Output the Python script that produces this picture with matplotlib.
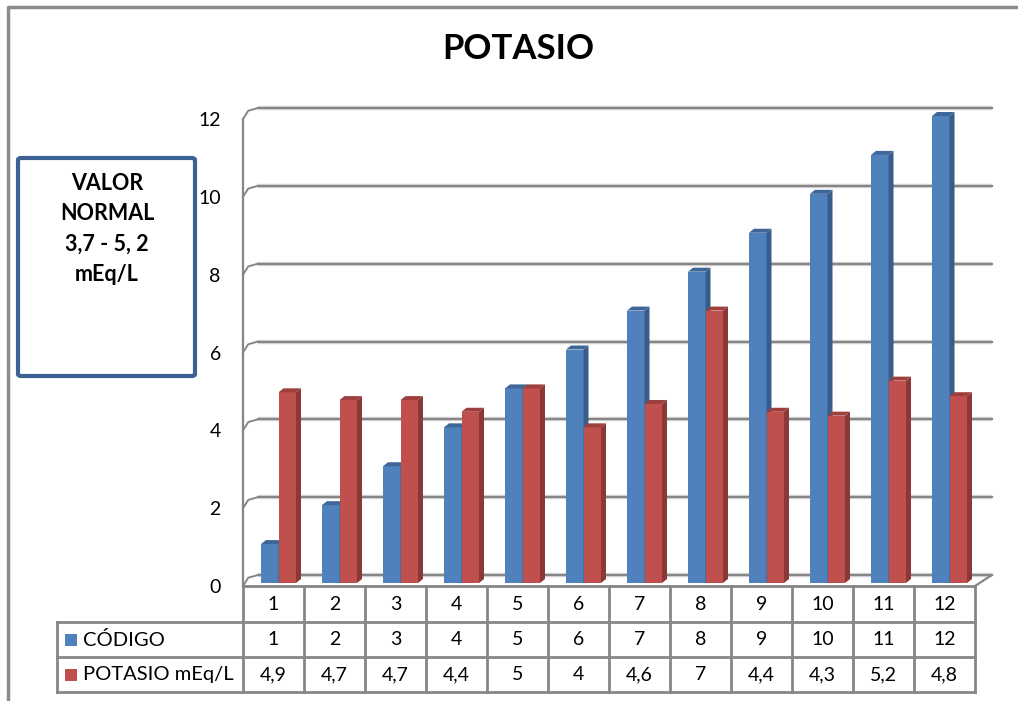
import numpy as np
import matplotlib.pyplot as plt
from matplotlib.patches import Polygon, FancyBboxPatch
from matplotlib.lines import Line2D

plt.rcParams['font.family'] = ['Lato', 'DejaVu Sans']

# data
categories = ["1", "2", "3", "4", "5", "6", "7", "8", "9", "10", "11", "12"]
codigo = [1, 2, 3, 4, 5, 6, 7, 8, 9, 10, 11, 12]
potasio = [4.9, 4.7, 4.7, 4.4, 5, 4, 4.6, 7, 4.4, 4.3, 5.2, 4.8]
codigo_txt = ["1", "2", "3", "4", "5", "6", "7", "8", "9", "10", "11", "12"]
potasio_txt = ["4,9", "4,7", "4,7", "4,4", "5", "4", "4,6", "7", "4,4", "4,3", "5,2", "4,8"]
series_names = ["CÓDIGO", "POTASIO mEq/L"]
yticks = [0, 2, 4, 6, 8, 10, 12]

BLUE = "#4F81BD"
BLUE_SIDE = "#385D8A"
BLUE_TOP = "#3E6699"
RED = "#C0504D"
RED_SIDE = "#8C3836"
RED_TOP = "#9E3F3D"
GRID = "#868686"

W, H = 1018, 701
fig = plt.figure(figsize=(W / 100, H / 100), dpi=100)

def fx(px):
    return px / W

def fy(py):
    # py measured from top of image
    return 1 - py / H

# main axes: front floor at y=586px, value 12 at y=119px, x from 243 to 975px
ax = fig.add_axes([fx(243), fy(586), fx(975) - fx(243), fy(119) - fy(586)])
n = len(categories)
ax.set_xlim(-0.5, n - 0.5)
ax.set_ylim(0, 12)
for s in ax.spines.values():
    s.set_visible(False)
ax.set_xticks([])
ax.set_yticks(yticks)
ax.set_yticklabels([str(t) for t in yticks], fontsize=14)
ax.tick_params(axis="y", length=0, pad=16)

px_x = 61.0       # pixels per category
px_y = 467 / 12   # pixels per unit
# 3D offsets
back_dx, back_dy = 15 / px_x, 11 / px_y
bar_dx, bar_dy = 5 / px_x, 3 / px_y
dep_x, dep_y = 5 / px_x, 4 / px_y
bw = 17.5 / px_x

# back wall gridlines and side-wall diagonals
for t in yticks:
    ax.plot([-0.5 + back_dx, n - 0.5 + back_dx + 0.03], [t + back_dy, t + back_dy],
            color="#D9D9D9", lw=3.2, clip_on=False, zorder=1, solid_capstyle="butt")
    ax.plot([-0.5 + back_dx, n - 0.5 + back_dx + 0.03], [t + back_dy, t + back_dy],
            color=GRID, lw=1.6, clip_on=False, zorder=1.1)
    ax.plot([-0.5, -0.5 + back_dx * 0.35, -0.5 + back_dx], [t, t + back_dy * 0.75, t + back_dy],
            color=GRID, lw=1.4, clip_on=False, zorder=1.1)
# left vertical axis
ax.plot([-0.5, -0.5], [0, 12], color=GRID, lw=1.6, clip_on=False, zorder=1.2)
# floor right diagonal
ax.plot([n - 0.5, n - 0.5 + back_dx + 0.03], [0, back_dy], color=GRID, lw=1.6,
        clip_on=False, zorder=1.1)

x = np.arange(n)

def draw_3d_bars(xleft, vals, front, side, top, z):
    bars = ax.bar(xleft, vals, width=bw, bottom=bar_dy, align="edge",
                  color=front, edgecolor="none", zorder=z, clip_on=False)
    for b in bars:
        x0 = b.get_x()
        x1 = x0 + b.get_width()
        y0 = b.get_y()
        y1 = y0 + b.get_height()
        ax.add_patch(Polygon([[x1, y0], [x1 + dep_x, y0 + dep_y], [x1 + dep_x, y1 + dep_y], [x1, y1]],
                             closed=True, facecolor=side, edgecolor="none", zorder=z, clip_on=False))
        ax.add_patch(Polygon([[x0, y1], [x0 + dep_x, y1 + dep_y], [x1 + dep_x, y1 + dep_y], [x1, y1]],
                             closed=True, facecolor=top, edgecolor="none", zorder=z, clip_on=False))

draw_3d_bars(x + bar_dx - bw, codigo, BLUE, BLUE_SIDE, BLUE_TOP, 3)
draw_3d_bars(x + bar_dx, potasio, RED, RED_SIDE, RED_TOP, 4)

# data table
fig.canvas.draw()
col_edges = [ax.transData.transform((e, 0))[0] for e in np.arange(-0.5, n, 1.0)]
col_mid = [ax.transData.transform((c, 0))[0] for c in x]
left_px = col_edges[0]
right_px = col_edges[-1]
row_label_left = 57
r0, r1, r2, r3 = 586, 622, 657, 692

lkw = dict(color=GRID, lw=2, solid_capstyle="projecting")

def hline(y, x0, x1):
    fig.add_artist(Line2D([x0 / W, x1 / W], [fy(y), fy(y)], **lkw))

def vline(xp, y0, y1):
    fig.add_artist(Line2D([xp / W, xp / W], [fy(y0), fy(y1)], **lkw))

hline(r0, left_px, right_px)
hline(r1, row_label_left, right_px)
hline(r2, row_label_left, right_px)
hline(r3, row_label_left, right_px)
for e in col_edges:
    vline(e, r0, r3)
vline(row_label_left, r1, r3)

tkw = dict(ha="center", va="center", fontsize=14, color="black")
for i in range(n):
    fig.text(col_mid[i] / W, fy((r0 + r1) / 2 + 1), categories[i], **tkw)
    fig.text(col_mid[i] / W, fy((r1 + r2) / 2), codigo_txt[i], **tkw)
    fig.text(col_mid[i] / W, fy((r2 + r3) / 2), potasio_txt[i], **tkw)

for name, col, (ya, yb) in zip(series_names, [BLUE, RED], [(r1, r2), (r2, r3)]):
    yc = (ya + yb) / 2
    fig.add_artist(plt.Rectangle((fx(65), fy(yc + 6)), fx(12), fy(yc - 6) - fy(yc + 6),
                                 facecolor=col, edgecolor="none"))
    fig.text(fx(83), fy(yc), name, ha="left", va="center", fontsize=14.5)

# title
fig.text(fx(518), fy(49), "POTASIO", ha="center", va="center", fontsize=25, fontweight="bold")

# normal value box
fig.add_artist(FancyBboxPatch((fx(18), fy(376)), fx(195) - fx(18), fy(158) - fy(376),
                              boxstyle="round,pad=0,rounding_size=0.003",
                              facecolor="white", edgecolor="#3C6194", lw=3))
fig.text(fx(107), fy(229), "VALOR\nNORMAL\n3,7 - 5, 2\nmEq/L", ha="center", va="center",
         fontsize=15.5, fontweight="bold", linespacing=1.55)

# outer chart border
fig.add_artist(Line2D([fx(8), fx(8), 1.0], [0.0, fy(7), fy(7)], color="#8C8C8C", lw=2.5))

fig.savefig("out.png", dpi=100)
